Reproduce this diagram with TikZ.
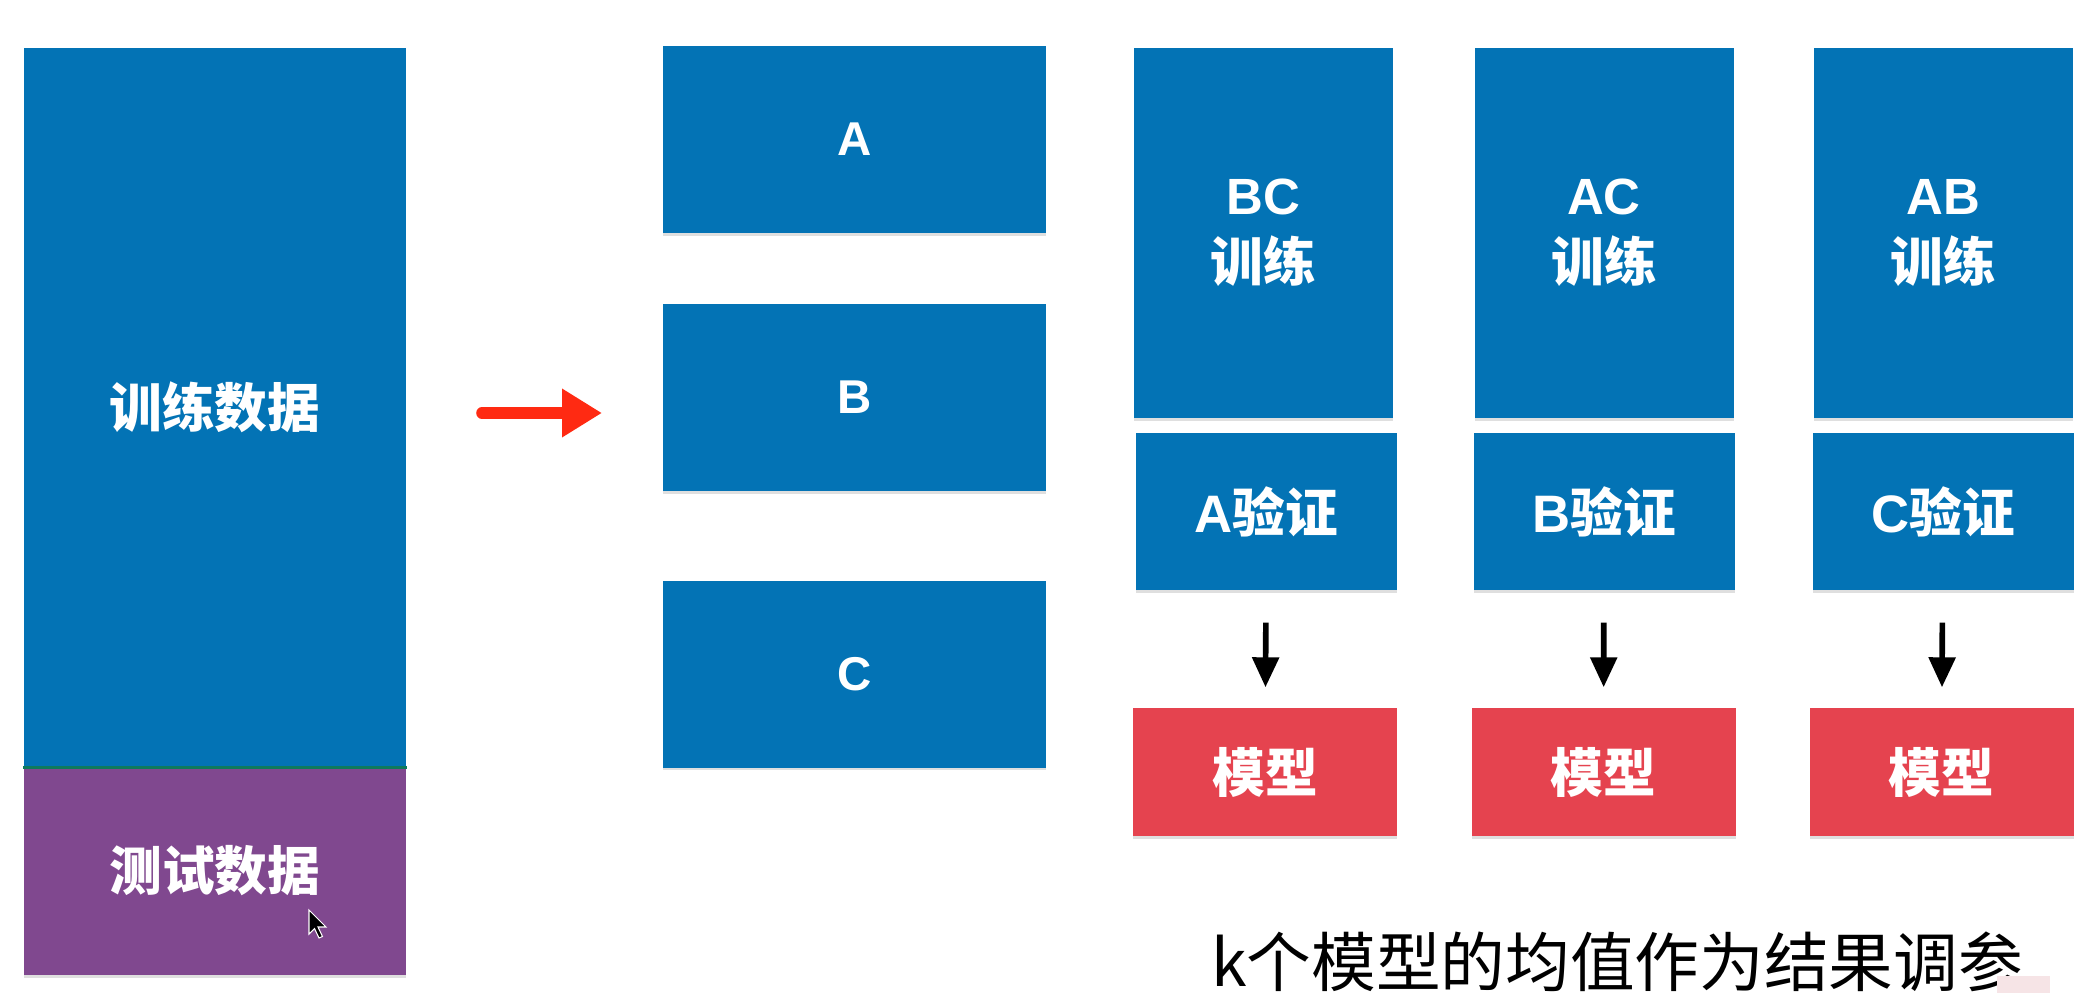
\documentclass[tikz,border=0pt]{standalone}
\usepackage{fontspec}
\setmainfont{Noto Sans CJK SC}
\newfontfamily\lat{Liberation Sans}
\usetikzlibrary{arrows.meta,shadows}
\definecolor{boxblue}{HTML}{0373B5}
\definecolor{testpurple}{HTML}{80488F}
\definecolor{modelred}{HTML}{E5434F}
\definecolor{arrowred}{HTML}{FF2A12}
\definecolor{divgreen}{HTML}{0E7A5C}
\definecolor{pinkmark}{HTML}{F6E4E6}
\begin{document}
\begin{tikzpicture}[x=1cm,y=1cm,
  blk/.style={fill=boxblue, text=white, inner sep=0pt, align=center,
    font=\bfseries\fontsize{15}{19}\selectfont,
    drop shadow={shadow xshift=0pt, shadow yshift=-0.8pt, opacity=0.25}},
  letterbox/.style={blk, minimum width=3.83cm, minimum height=1.87cm,
    font=\lat\bfseries\fontsize{13.5}{16}\selectfont},
  trainbox/.style={blk, minimum width=2.59cm, minimum height=3.70cm},
  valbox/.style={blk, minimum width=2.61cm, minimum height=1.57cm},
  modelbox/.style={blk, fill=modelred, minimum width=2.64cm, minimum height=1.28cm},
  karrow/.style={draw=black, line width=1.6pt, -{Triangle[length=0.3cm,width=0.26cm]},
    shorten <=0.32cm, shorten >=0.2cm},
  redarrow/.style={draw=arrowred, line width=3.3pt, line cap=round,
    -{Triangle[length=0.4cm,width=0.46cm]}}]
\useasboundingbox (0,0) rectangle (20.74,-9.93);
\fill[white] (0,0) rectangle (20.74,-9.93);

% left column
\node[blk, minimum width=3.82cm, minimum height=7.19cm] (train) at (2.15,-4.075) {训练数据};
\node[blk, fill=testpurple, minimum width=3.82cm, minimum height=2.08cm] (test) at (2.15,-8.71) {测试数据};
\draw[divgreen, line width=1pt] (train.south west) -- (train.south east);

% cursor
\fill[black, draw=white, line width=0.3pt] (3.09,-9.10) -- (3.09,-9.34) -- (3.145,-9.285) -- (3.19,-9.38)
  -- (3.225,-9.365) -- (3.18,-9.27) -- (3.26,-9.27) -- cycle;

% red arrow
\coordinate (r1) at (4.82,-4.13);
\coordinate (r2) at (6.02,-4.13);
\draw[redarrow] (r1) -- (r2);

% A B C
\node[letterbox] (A) at (8.545,-1.395) {A};
\node[letterbox] (B) at (8.545,-3.975) {B};
\node[letterbox] (C) at (8.545,-6.74) {C};

% folds
\node[trainbox] (t1) at (12.635,-2.33) {{\lat\fontsize{14.5}{19}\selectfont BC}\\训练};
\node[trainbox] (t2) at (16.04,-2.33) {{\lat\fontsize{14.5}{19}\selectfont AC}\\训练};
\node[trainbox] (t3) at (19.43,-2.33) {{\lat\fontsize{14.5}{19}\selectfont AB}\\训练};

\node[valbox] (v1) at (12.665,-5.115) {{\lat A}验证};
\node[valbox] (v2) at (16.04,-5.115) {{\lat B}验证};
\node[valbox] (v3) at (19.43,-5.115) {{\lat C}验证};

\node[modelbox] (m1) at (12.65,-7.72) {模型};
\node[modelbox] (m2) at (16.035,-7.72) {模型};
\node[modelbox] (m3) at (19.415,-7.72) {模型};

\draw[karrow] (v1) -- (m1);
\draw[karrow] (v2) -- (m2);
\draw[karrow] (v3) -- (m3);

% caption
\node[font=\fontsize{18.4}{22}\selectfont, inner sep=0pt] (note) at (16.17,-9.62) {k个模型的均值作为结果调参};

% pink mark
\fill[pinkmark] (19.97,-9.76) rectangle (20.5,-9.93);
\end{tikzpicture}
\end{document}
